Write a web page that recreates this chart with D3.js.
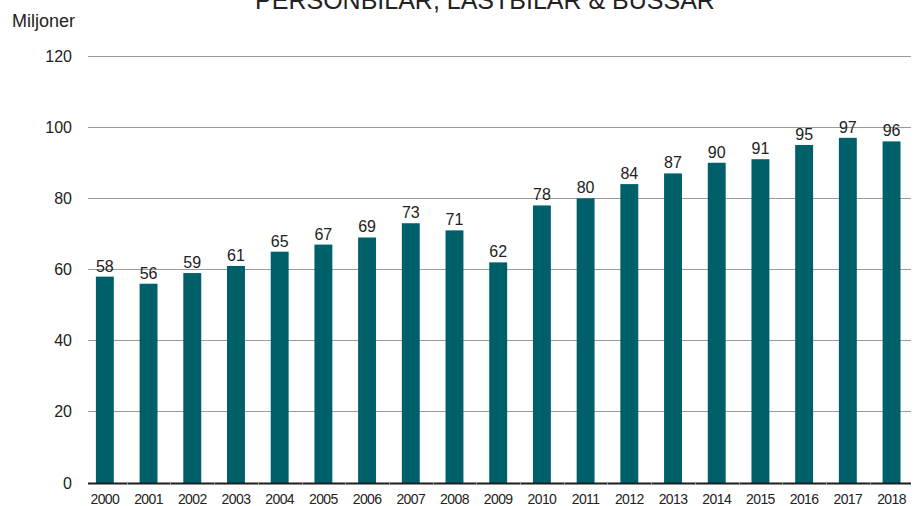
<!DOCTYPE html>
<html>
<head>
<meta charset="utf-8">
<script src="https://cdn.jsdelivr.net/npm/d3@7"></script>
<style>
  html, body { margin: 0; padding: 0; background: #fff; }
  svg { display: block; font-family: "Liberation Sans", Arial, sans-serif; }
</style>
</head>
<body>
<svg id="chart" width="919" height="506"></svg>
<script>
const years = ["2000","2001","2002","2003","2004","2005","2006","2007","2008","2009",
               "2010","2011","2012","2013","2014","2015","2016","2017","2018"];
const values = [58,56,59,61,65,67,69,73,71,62,78,80,84,87,90,91,95,97,96];
const yTicks = [0,20,40,60,80,100,120];
const titleText = "PERSONBILAR, LASTBILAR & BUSSAR";
const unitText = "Miljoner";

const svg = d3.select("#chart");

const x = d3.scaleBand().domain(years).range([83, 913.4]).paddingInner(0.59).paddingOuter(0.295);
const y = d3.scaleLinear().domain([0, 120]).range([483, 56]);

const plotLeft = 88, plotRight = 911;

// gridlines
svg.append("g").selectAll("line")
  .data(yTicks.filter(d => d > 0))
  .join("line")
  .attr("x1", plotLeft).attr("x2", plotRight)
  .attr("y1", d => y(d)).attr("y2", d => y(d))
  .attr("stroke", "#9a9a9a").attr("stroke-width", 1)
  .attr("shape-rendering", "crispEdges");

// y tick labels
svg.append("g").selectAll("text")
  .data(yTicks)
  .join("text")
  .attr("x", 72).attr("y", d => y(d))
  .attr("dy", "0.35em")
  .attr("text-anchor", "end")
  .attr("font-size", 16)
  .attr("fill", "#222")
  .text(d => d);

// bars
svg.append("g").selectAll("rect")
  .data(values)
  .join("rect")
  .attr("x", (d, i) => x(years[i]))
  .attr("width", x.bandwidth())
  .attr("y", d => y(d))
  .attr("height", d => y(0) - y(d))
  .attr("fill", "#00606a");

// value labels
svg.append("g").selectAll("text")
  .data(values)
  .join("text")
  .attr("x", (d, i) => x(years[i]) + x.bandwidth() / 2)
  .attr("y", d => y(d) - 5)
  .attr("text-anchor", "middle")
  .attr("font-size", 16)
  .attr("fill", "#222")
  .text(d => d);

// x axis line
svg.append("line")
  .attr("x1", plotLeft).attr("x2", plotRight)
  .attr("y1", y(0) + 0.5).attr("y2", y(0) + 0.5)
  .attr("stroke", "#1e1e1e").attr("stroke-width", 2);

// band separators (ticks)
const step = x.step();
svg.append("g").selectAll("line")
  .data(years.slice(1))
  .join("line")
  .attr("x1", d => Math.round(x(d) + x.bandwidth() / 2 - step / 2) + 0.5)
  .attr("x2", d => Math.round(x(d) + x.bandwidth() / 2 - step / 2) + 0.5)
  .attr("y1", y(0) - 0.5).attr("y2", y(0) + 2)
  .attr("stroke", "#9a9a9a").attr("stroke-width", 1);

// x labels
svg.append("g").selectAll("text")
  .data(years)
  .join("text")
  .attr("x", d => x(d) + x.bandwidth() / 2)
  .attr("y", 504)
  .attr("text-anchor", "middle")
  .attr("font-size", 14)
  .attr("letter-spacing", "-0.6px")
  .attr("fill", "#222")
  .text(d => d);

// title (clipped at top, as in the reference)
svg.append("text")
  .attr("x", 485).attr("y", 8.5)
  .attr("text-anchor", "middle")
  .attr("font-size", 25)
  .attr("fill", "#222")
  .text(titleText);

// unit label
svg.append("text")
  .attr("x", 12).attr("y", 27)
  .attr("font-size", 18)
  .attr("fill", "#222")
  .text(unitText);
</script>
</body>
</html>
